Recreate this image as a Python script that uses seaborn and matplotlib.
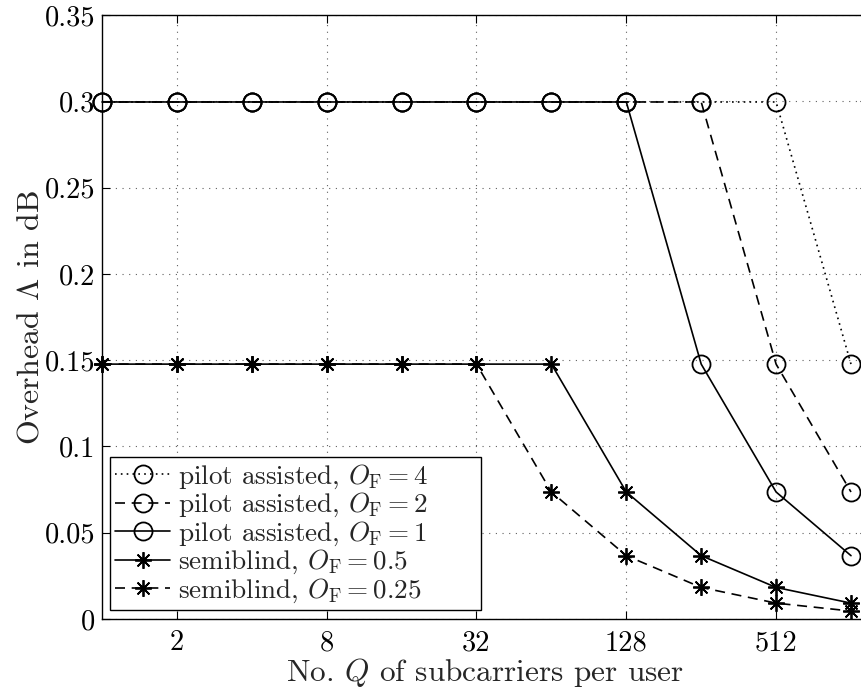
import matplotlib
matplotlib.use("Agg")
import matplotlib.pyplot as plt
import seaborn as sns
import pandas as pd

# ---- data ----
Q = [1, 2, 4, 8, 16, 32, 64, 128, 256, 512, 1024]
pilot_of4 = [0.2996, 0.2996, 0.2996, 0.2996, 0.2996, 0.2996, 0.2996, 0.2996, 0.2996, 0.2996, 0.1477]
pilot_of2 = [0.2996, 0.2996, 0.2996, 0.2996, 0.2996, 0.2996, 0.2996, 0.2996, 0.2996, 0.1477, 0.0736]
pilot_of1 = [0.2996, 0.2996, 0.2996, 0.2996, 0.2996, 0.2996, 0.2996, 0.2996, 0.1477, 0.0736, 0.0367]
semi_of05 = [0.1477, 0.1477, 0.1477, 0.1477, 0.1477, 0.1477, 0.1477, 0.0736, 0.0367, 0.0183, 0.0092]
semi_of025 = [0.1477, 0.1477, 0.1477, 0.1477, 0.1477, 0.1477, 0.0736, 0.0367, 0.0183, 0.0092, 0.0046]

labels = [r"pilot assisted, $O_{\mathrm{F}} = 4$",
          r"pilot assisted, $O_{\mathrm{F}} = 2$",
          r"pilot assisted, $O_{\mathrm{F}} = 1$",
          r"semiblind, $O_{\mathrm{F}} = 0.5$",
          r"semiblind, $O_{\mathrm{F}} = 0.25$"]
series = [pilot_of4, pilot_of2, pilot_of1, semi_of05, semi_of025]
DOT = (0, (1, 2.5))
DASH = (0, (6, 4))
linestyles = [DOT, DASH, "-", "-", DASH]
markers = ["o", "o", "o", (8, 2, 0), (8, 2, 0)]

xticks = [2, 8, 32, 128, 512]
xticklabels = ["2", "8", "32", "128", "512"]
yticks = [0, 0.05, 0.1, 0.15, 0.2, 0.25, 0.3, 0.35]
yticklabels = ["0", "0.05", "0.1", "0.15", "0.2", "0.25", "0.3", "0.35"]

# ---- style ----
sns.set_style("ticks")
plt.rcParams["font.family"] = ["cmr10", "DejaVu Serif"]
plt.rcParams["mathtext.fontset"] = "cm"
plt.rcParams["axes.formatter.use_mathtext"] = True
plt.rcParams["axes.unicode_minus"] = False

fig = plt.figure(figsize=(8.62, 6.88), dpi=100)
W, H = 862, 688
left_px, right_px, top_px, bottom_px = 102, 868, 15, 619
ax = fig.add_axes([left_px / W, (H - bottom_px) / H,
                   (right_px - left_px) / W, (bottom_px - top_px) / H])
ax.set_xscale("log", base=2)

for vals, lab, ls, mk in zip(series, labels, linestyles, markers):
    df = pd.DataFrame({"Q": Q, "v": vals})
    is_circle = mk == "o"
    sns.lineplot(data=df, x="Q", y="v", ax=ax, color="black",
                 linestyle=ls, linewidth=1.2, marker=mk,
                 markersize=13 if is_circle else 12,
                 markerfacecolor="none", markeredgecolor="black",
                 markeredgewidth=1.3, label=lab, clip_on=False)

ax.set_xlim(1, 2 ** ((right_px - left_px) / 74.9))
ax.set_ylim(0, 0.35)
ax.set_xticks(xticks)
ax.set_xticklabels(xticklabels)
ax.minorticks_off()
ax.set_yticks(yticks)
ax.set_yticklabels(yticklabels)
ax.tick_params(axis="both", which="both", direction="in", length=6,
               width=0.8, top=True, right=True, labelsize=20.5, colors="black")
ax.tick_params(axis="x", pad=8)
ax.tick_params(axis="y", pad=5)
ax.grid(True, linestyle=(0, (1, 5)), color="#606060", linewidth=0.8)
for s in ax.spines.values():
    s.set_linewidth(1.0)
    s.set_color("black")

ax.set_xlabel(r"No. $Q$ of subcarriers per user", fontsize=22.5, labelpad=0)
ax.set_ylabel(r"Overhead $\Lambda$ in dB", fontsize=23, labelpad=0)

leg = ax.legend(loc="lower left", bbox_to_anchor=(8 / 766, 9 / 604, 371 / 766, 150 / 604),
                mode="expand", borderaxespad=0, fontsize=19.5, handlelength=2.0,
                handletextpad=0.3, labelspacing=0.0, borderpad=0.2,
                fancybox=False, framealpha=1, edgecolor="black")
leg.get_frame().set_linewidth(1.0)

fig.savefig("out.png", dpi=100)
